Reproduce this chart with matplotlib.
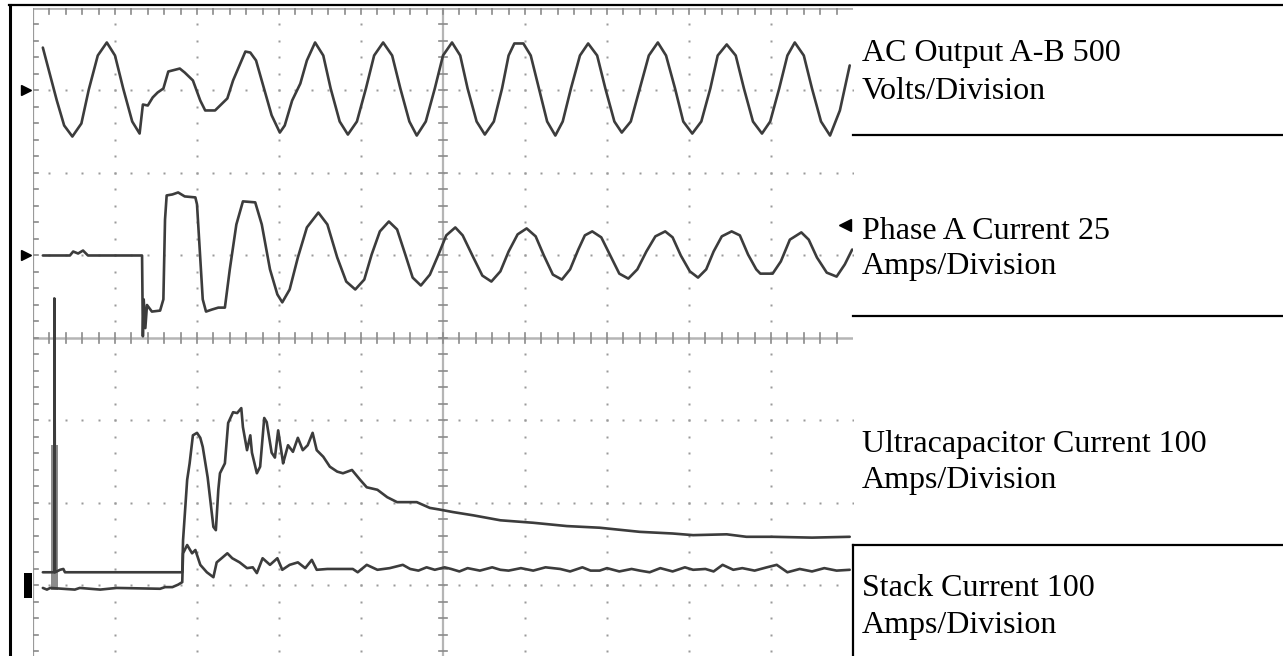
import numpy as np
import matplotlib.pyplot as plt
from matplotlib.lines import Line2D

# time axis in scope divisions (10 div across the screen)
ac_t = [0.12, 0.29, 0.38, 0.48, 0.59, 0.68, 0.79, 0.90, 1.00, 1.10, 1.21, 1.30,
        1.34, 1.40, 1.46, 1.52, 1.59, 1.65, 1.79, 1.85, 1.95, 2.04, 2.10, 2.22,
        2.37, 2.44, 2.59, 2.65, 2.72, 2.80, 2.91, 3.01, 3.07, 3.16, 3.26, 3.34,
        3.44, 3.54, 3.63, 3.74, 3.84, 3.95, 4.06, 4.16, 4.27, 4.38, 4.48, 4.59,
        4.68, 4.79, 4.90, 5.00, 5.11, 5.21, 5.30, 5.41, 5.51, 5.62, 5.72, 5.80,
        5.87, 5.98, 6.07, 6.17, 6.27, 6.37, 6.46, 6.56, 6.67, 6.77, 6.88, 6.98,
        7.09, 7.18, 7.29, 7.40, 7.51, 7.62, 7.72, 7.83, 7.93, 8.04, 8.15, 8.26,
        8.35, 8.46, 8.57, 8.67, 8.78, 8.89, 8.99, 9.10, 9.20, 9.29, 9.40, 9.50,
        9.61, 9.72, 9.84, 9.96]
ac_volts = [260, -60, -212, -279, -200, 5, 212, 291, 212, 12, -188, -261,
            -85, -91, -42, -12, 12, 115, 133, 109, 61, -61, -121, -121,
            -48, 61, 236, 230, 182, 42, -150, -255, -212, -61, 42, 182,
            291, 212, 12, -188, -267, -188, 12, 212, 291, 212, 12, -188,
            -273, -188, 12, 212, 291, 212, 12, -188, -267, -188, 12, 212,
            285, 285, 212, 12, -188, -273, -188, 12, 212, 285, 212, 12,
            -188, -255, -188, 12, 212, 291, 212, 12, -188, -261, -188, 12,
            212, 279, 212, 12, -188, -261, -188, 12, 212, 291, 212, 12,
            -188, -273, -121, 152]

pa_t = [0.12, 0.45, 0.49, 0.55, 0.61, 0.67, 1.33, 1.34, 1.35, 1.37, 1.39, 1.45,
        1.55, 1.59, 1.61, 1.63, 1.70, 1.77, 1.85, 1.98, 2.00, 2.07, 2.11, 2.18,
        2.26, 2.34, 2.40, 2.48, 2.56, 2.71, 2.79, 2.89, 2.98, 3.04, 3.13, 3.23,
        3.34, 3.48, 3.59, 3.71, 3.82, 3.93, 4.04, 4.13, 4.23, 4.34, 4.44, 4.54,
        4.63, 4.73, 4.84, 4.94, 5.04, 5.15, 5.24, 5.37, 5.48, 5.59, 5.70, 5.80,
        5.91, 6.02, 6.13, 6.23, 6.34, 6.45, 6.55, 6.65, 6.73, 6.82, 6.93, 7.04,
        7.15, 7.26, 7.37, 7.48, 7.59, 7.71, 7.80, 7.90, 8.01, 8.11, 8.21, 8.30,
        8.40, 8.52, 8.62, 8.72, 8.82, 8.87, 9.02, 9.12, 9.23, 9.37, 9.46, 9.56,
        9.68, 9.80, 9.90, 9.99]
pa_amps = [0, 0, 1.2, 0.6, 1.5, 0, 0, -24.5, -13.3, -22, -15, -17,
           -16.7, -13.3, 10.9, 18.2, 18.5, 19.1, 17.9, 17.6, 15.5, -13.3, -17, -16.4,
           -15.8, -15.8, -4.2, 9.4, 16.4, 16.1, 9.4, -4.2, -11.8, -14.2, -10.3, -0.6,
           8.5, 13, 9.4, -0.6, -7.9, -10.3, -7.3, 0.3, 7.3, 10.3, 7.9, 0.3,
           -6.7, -9.1, -5.8, 0, 6.1, 8.5, 6.1, -0.6, -6.1, -7.9, -4.8, 1.2,
           6.4, 8.2, 5.8, 0, -5.8, -7.3, -4.2, 1.8, 6.1, 7.3, 5.5, 0,
           -5.5, -7.0, -4.2, 1.2, 5.8, 7.3, 5.5, 0, -4.8, -6.7, -4.2, 1.2,
           5.8, 7.3, 6.1, 0.3, -4.2, -5.5, -5.5, -1.8, 4.8, 7.0, 4.8, -0.6,
           -5.2, -6.4, -2.7, 1.8]

uc_t = [0.12, 0.23, 0.26, 0.26, 0.27, 0.33, 0.37, 0.39, 1.82, 1.83, 1.88, 1.91,
        1.95, 2.00, 2.04, 2.07, 2.13, 2.20, 2.23, 2.26, 2.28, 2.34, 2.38, 2.44,
        2.49, 2.54, 2.56, 2.61, 2.65, 2.67, 2.73, 2.77, 2.82, 2.85, 2.91, 2.95,
        2.99, 3.04, 3.05, 3.11, 3.17, 3.23, 3.29, 3.35, 3.41, 3.46, 3.54, 3.62,
        3.71, 3.78, 3.89, 3.99, 4.07, 4.20, 4.32, 4.44, 4.68, 4.84, 4.96, 5.12,
        5.37, 5.70, 6.10, 6.51, 6.91, 7.40, 7.80, 8.05, 8.46, 8.70, 9.02, 9.50, 9.96]
uc_amps = [16, 16, 16, 348, 16, 19, 20, 16, 16, 55, 128, 148,
           182, 185, 179, 168, 131, 71, 67, 116, 136, 148, 197, 210,
           209, 215, 192, 164, 182, 161, 136, 144, 203, 198, 161, 155,
           188, 155, 148, 170, 162, 179, 164, 170, 185, 164, 156, 144,
           138, 136, 140, 128, 119, 116, 107, 101, 101, 94, 92, 89,
           85, 79, 76, 72, 70, 65, 63, 61, 62, 59, 59, 58, 59]

# wide grey pulse at the start of the ultracapacitor trace
uc_pulse_t = 0.265
uc_pulse_width = 0.08
uc_pulse_low = -5
uc_pulse_high = 170

st_t = [0.12, 0.17, 0.21, 0.51, 0.57, 0.82, 1.02, 1.55, 1.61, 1.70, 1.77, 1.82,
        1.83, 1.88, 1.94, 1.98, 2.04, 2.12, 2.20, 2.24, 2.30, 2.37, 2.43, 2.52,
        2.61, 2.68, 2.73, 2.80, 2.89, 2.98, 3.04, 3.13, 3.23, 3.32, 3.40, 3.46,
        3.59, 3.90, 3.96, 4.07, 4.20, 4.35, 4.51, 4.60, 4.70, 4.80, 4.90, 5.02,
        5.10, 5.20, 5.30, 5.45, 5.60, 5.70, 5.80, 5.95, 6.10, 6.25, 6.43, 6.55,
        6.70, 6.80, 6.91, 7.00, 7.15, 7.30, 7.40, 7.52, 7.65, 7.80, 7.95, 8.05,
        8.20, 8.30, 8.41, 8.54, 8.65, 8.80, 8.95, 9.07, 9.20, 9.35, 9.50, 9.65,
        9.80, 9.96]
st_amps = [-3, -5, -3, -5, -3, -5, -3, -4, -2, -2, 1, 4,
           39, 49, 39, 43, 25, 16, 10, 28, 33, 39, 33, 28,
           21, 22, 15, 33, 25, 33, 19, 25, 28, 21, 31, 19,
           20, 20, 16, 25, 19, 21, 25, 20, 18, 22, 19, 22,
           20, 17, 21, 18, 22, 19, 18, 21, 18, 22, 20, 17,
           22, 18, 18, 21, 17, 20, 18, 16, 21, 17, 22, 19,
           20, 17, 25, 19, 21, 18, 22, 25, 16, 20, 17, 21,
           18, 19]

# channel settings: ground position (div) and scale per division
ch_offset = [3.0, 1.0, -3.0, -3.0]
ch_scale = [500, 25, 100, 100]
trigger_level = 1.37

labels = [
    ["AC Output A-B 500", "Volts/Division"],
    ["Phase A Current 25", "Amps/Division"],
    ["Ultracapacitor Current 100", "Amps/Division"],
    ["Stack Current 100", "Amps/Division"],
]

W, H = 1283, 656
fig = plt.figure(figsize=(W / 100, H / 100), dpi=100)
ax = fig.add_axes([33 / W, 0, 820 / W, 648 / H])
ax.set_xlim(0, 10)
ax.set_ylim(-3.855, 4.0)
ax.axis("off")

grid_col = "#9a9a9a"
# dotted graticule
for gx in range(1, 10):
    if gx == 5:
        continue
    ys = np.arange(-3.8, 4.0, 0.2)
    ax.plot(np.full(len(ys), gx), ys, ls="none", marker="s", ms=1.6, color=grid_col, mec="none")
for gy in range(-3, 4):
    if gy == 0:
        continue
    xs = np.arange(0.2, 10.01, 0.2)
    ax.plot(xs, np.full(len(xs), gy), ls="none", marker="s", ms=1.6, color=grid_col, mec="none")

# centre lines and edges with minor ticks
tick = 0.06
ax.plot([0, 10], [0, 0], color="#b5b5b5", lw=1.8)
ax.plot([5, 5], [-3.855, 4], color="#b5b5b5", lw=1.6)
ax.plot([0, 10], [4, 4], color="#b5b5b5", lw=2.0)
ax.plot([0, 0], [-3.855, 4], color="#9a9a9a", lw=1.6)
for x in np.arange(0.2, 10.0, 0.2):
    ax.plot([x, x], [-tick, tick], color="#8a8a8a", lw=1.2)
    ax.plot([x, x], [4, 4 - tick * 1.2], color="#8a8a8a", lw=1.2)
for y in np.arange(-3.8, 4.0, 0.2):
    ax.plot([5 - tick * 0.8, 5 + tick * 0.8], [y, y], color="#8a8a8a", lw=1.2)
    ax.plot([0, tick], [y, y], color="#8a8a8a", lw=1.2)

trace_col = "#3c3c3c"
ac = ch_offset[0] + np.array(ac_volts) / ch_scale[0]
pa = ch_offset[1] + np.array(pa_amps) / ch_scale[1]
uc = ch_offset[2] + np.array(uc_amps) / ch_scale[2]
st = ch_offset[3] + np.array(st_amps) / ch_scale[3]

ax.bar(uc_pulse_t, (uc_pulse_high - uc_pulse_low) / ch_scale[2],
       bottom=ch_offset[2] + uc_pulse_low / ch_scale[2], width=uc_pulse_width,
       color="#8c8c8c", zorder=3)
for tt, yy in [(ac_t, ac), (pa_t, pa), (uc_t, uc), (st_t, st)]:
    ax.plot(tt, yy, color=trace_col, lw=1.9, zorder=4,
            solid_joinstyle="round", solid_capstyle="round")

# ground markers on the left, trigger marker on the right
ax.plot([-0.08, -0.08], ch_offset[:2], ls="none", marker=">", ms=7.5, color="black", clip_on=False)
ax.bar(-0.06, 0.3, bottom=ch_offset[2] - 0.15, width=0.1, color="black", clip_on=False)
ax.plot([9.9], [trigger_level], ls="none", marker="<", ms=8, color="black", clip_on=False)

# frame and separators
def hline(x0, x1, y, lw=1.6):
    fig.add_artist(Line2D([x0 / W, x1 / W], [1 - y / H, 1 - y / H], color="black", lw=lw))

def vline(x, y0, y1, lw=1.6):
    fig.add_artist(Line2D([x / W, x / W], [1 - y0 / H, 1 - y1 / H], color="black", lw=lw))

hline(9, W, 5)
vline(10, 5, H, lw=2.2)
hline(853, W, 135)
hline(853, W, 316)
hline(853, W, 545)
vline(853, 545, H)

text_y = [(61, 99), (239, 274), (452, 488), (596, 633)]
for (l1, l2), (y1, y2) in zip(labels, text_y):
    fig.text(862 / W, 1 - y1 / H, l1, fontsize=23, family="Liberation Serif", va="baseline")
    fig.text(862 / W, 1 - y2 / H, l2, fontsize=23, family="Liberation Serif", va="baseline")

fig.savefig("out.png", dpi=100)
